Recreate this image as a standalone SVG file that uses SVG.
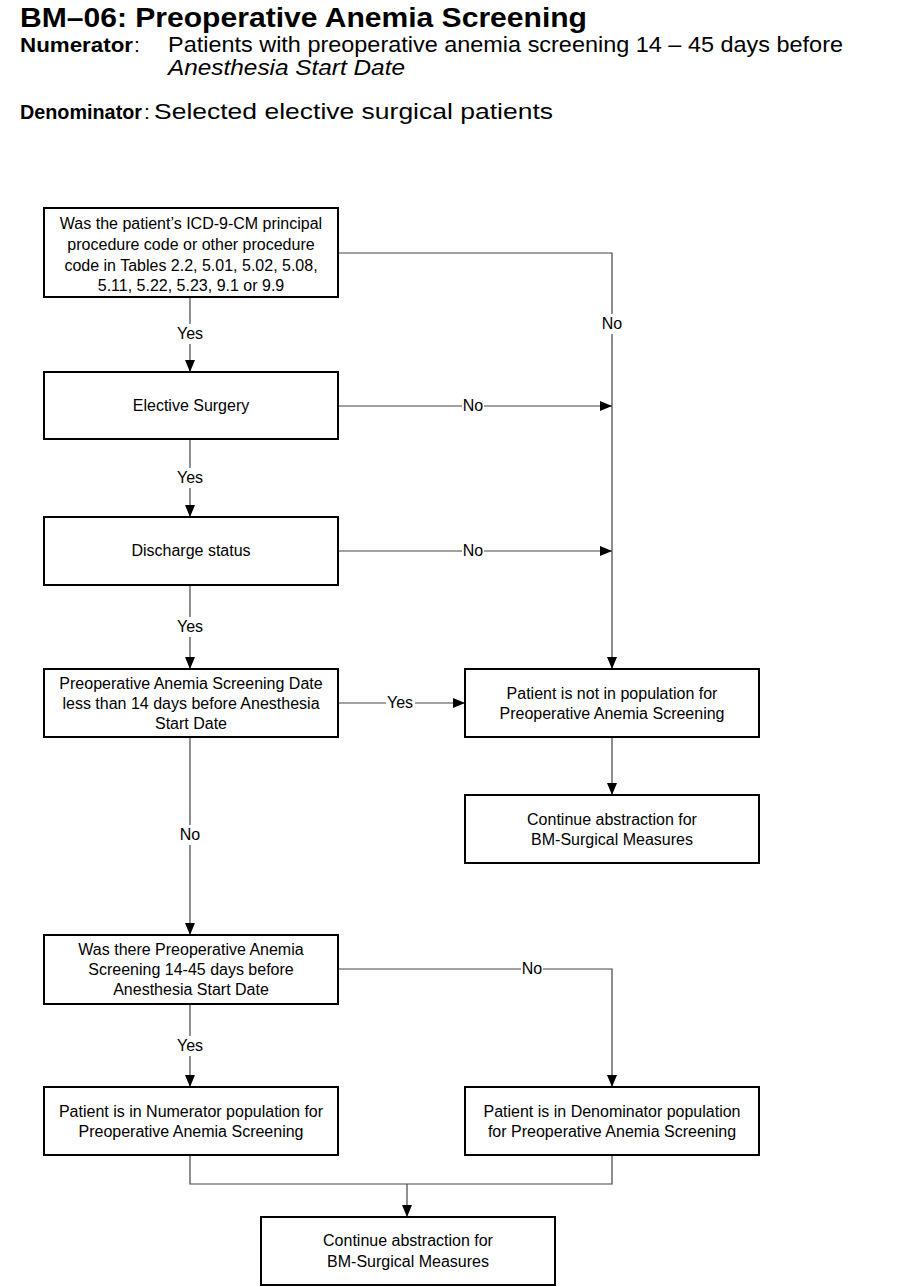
<svg xmlns="http://www.w3.org/2000/svg" width="901" height="1287" viewBox="0 0 901 1287">
<style>
.box{fill:#fff;stroke:#000;stroke-width:2}
.t{font-family:"Liberation Sans",Arial,sans-serif;font-size:16px;fill:#000;text-anchor:middle}
.h{font-family:"Liberation Sans",Arial,sans-serif;fill:#000}
.c{fill:none;stroke:#444;stroke-width:1.2}
.lb{fill:#fff}
</style>
<defs>
<marker id="ah" viewBox="0 0 12 10" refX="12" refY="5" markerWidth="12" markerHeight="10" markerUnits="userSpaceOnUse" orient="auto">
<path d="M0,0 L12,5 L0,10 Z" fill="#000"/>
</marker>
</defs>
<rect width="901" height="1287" fill="#fff"/>
<g id="header">
<text class="h" x="20" y="27" font-size="28" font-weight="bold" textLength="567" lengthAdjust="spacingAndGlyphs">BM–06: Preoperative Anemia Screening</text>
<text class="h" x="20" y="52" font-size="21" font-weight="bold" textLength="113" lengthAdjust="spacingAndGlyphs">Numerator</text>
<text class="h" x="134" y="52" font-size="21">:</text>
<text class="h" x="168" y="52" font-size="21.5" textLength="675" lengthAdjust="spacingAndGlyphs">Patients with preoperative anemia screening 14 – 45 days before</text>
<text class="h" x="168" y="75" font-size="21.5" font-style="italic" textLength="237" lengthAdjust="spacingAndGlyphs">Anesthesia Start Date</text>
<text class="h" x="20" y="119" font-size="20" font-weight="bold" textLength="122" lengthAdjust="spacingAndGlyphs">Denominator</text>
<text class="h" x="144" y="119" font-size="21">:</text>
<text class="h" x="154" y="119" font-size="21.5" textLength="399" lengthAdjust="spacingAndGlyphs">Selected elective surgical patients</text>
</g>
<g id="connectors">
<path class="c" d="M190,297 V372" marker-end="url(#ah)"/>
<path class="c" d="M338,253 H612 V669" marker-end="url(#ah)"/>
<path class="c" d="M338,406 H612" marker-end="url(#ah)"/>
<path class="c" d="M190,439 V517" marker-end="url(#ah)"/>
<path class="c" d="M338,551 H612" marker-end="url(#ah)"/>
<path class="c" d="M190,585 V669" marker-end="url(#ah)"/>
<path class="c" d="M338,703 H465" marker-end="url(#ah)"/>
<path class="c" d="M612,738 V795" marker-end="url(#ah)"/>
<path class="c" d="M190,737 V935" marker-end="url(#ah)"/>
<path class="c" d="M338,969 H612 V1087" marker-end="url(#ah)"/>
<path class="c" d="M190,1004 V1087" marker-end="url(#ah)"/>
<path class="c" d="M190,1155 V1184 H612 V1155"/>
<path class="c" d="M407,1184 V1217" marker-end="url(#ah)"/>
<rect class="lb" x="175" y="324" width="30" height="20"/><text class="t" x="190" y="339">Yes</text>
<rect class="lb" x="600" y="314" width="24" height="20"/><text class="t" x="612" y="329">No</text>
<rect class="lb" x="462" y="396" width="22" height="20"/><text class="t" x="473" y="411">No</text>
<rect class="lb" x="175" y="468" width="30" height="20"/><text class="t" x="190" y="483">Yes</text>
<rect class="lb" x="462" y="541" width="22" height="20"/><text class="t" x="473" y="556">No</text>
<rect class="lb" x="175" y="617" width="30" height="20"/><text class="t" x="190" y="632">Yes</text>
<rect class="lb" x="386" y="693" width="29" height="20"/><text class="t" x="400" y="708">Yes</text>
<rect class="lb" x="178" y="825" width="24" height="20"/><text class="t" x="190" y="840">No</text>
<rect class="lb" x="521" y="959" width="22" height="20"/><text class="t" x="532" y="974">No</text>
<rect class="lb" x="175" y="1036" width="30" height="20"/><text class="t" x="190" y="1051">Yes</text>
</g>
<g id="n1">
<rect class="box" x="44" y="208" width="294" height="89"/>
<text class="t" x="191" y="229">Was the patient’s ICD-9-CM principal</text>
<text class="t" x="191" y="250">procedure code or other procedure</text>
<text class="t" x="191" y="271">code in Tables 2.2, 5.01, 5.02, 5.08,</text>
<text class="t" x="191" y="291">5.11, 5.22, 5.23, 9.1 or 9.9</text>
</g>
<g id="n2">
<rect class="box" x="44" y="372" width="294" height="67"/>
<text class="t" x="191" y="411">Elective Surgery</text>
</g>
<g id="n3">
<rect class="box" x="44" y="517" width="294" height="68"/>
<text class="t" x="191" y="556">Discharge status</text>
</g>
<g id="n4">
<rect class="box" x="44" y="669" width="294" height="68"/>
<text class="t" x="191" y="689">Preoperative Anemia Screening Date</text>
<text class="t" x="191" y="709">less than 14 days before Anesthesia</text>
<text class="t" x="191" y="729">Start Date</text>
</g>
<g id="n5">
<rect class="box" x="465" y="669" width="294" height="68"/>
<text class="t" x="612" y="699">Patient is not in population for</text>
<text class="t" x="612" y="719">Preoperative Anemia Screening</text>
</g>
<g id="n6">
<rect class="box" x="465" y="795" width="294" height="68"/>
<text class="t" x="612" y="825">Continue abstraction for</text>
<text class="t" x="612" y="845">BM-Surgical Measures</text>
</g>
<g id="n7">
<rect class="box" x="44" y="935" width="294" height="69"/>
<text class="t" x="191" y="955">Was there Preoperative Anemia</text>
<text class="t" x="191" y="975">Screening 14-45 days before</text>
<text class="t" x="191" y="995">Anesthesia Start Date</text>
</g>
<g id="n8">
<rect class="box" x="44" y="1087" width="294" height="68"/>
<text class="t" x="191" y="1117">Patient is in Numerator population for</text>
<text class="t" x="191" y="1137">Preoperative Anemia Screening</text>
</g>
<g id="n9">
<rect class="box" x="465" y="1087" width="294" height="68"/>
<text class="t" x="612" y="1117">Patient is in Denominator population</text>
<text class="t" x="612" y="1137">for Preoperative Anemia Screening</text>
</g>
<g id="n10">
<rect class="box" x="261" y="1217" width="294" height="68"/>
<text class="t" x="408" y="1246">Continue abstraction for</text>
<text class="t" x="408" y="1267">BM-Surgical Measures</text>
</g>
</svg>
